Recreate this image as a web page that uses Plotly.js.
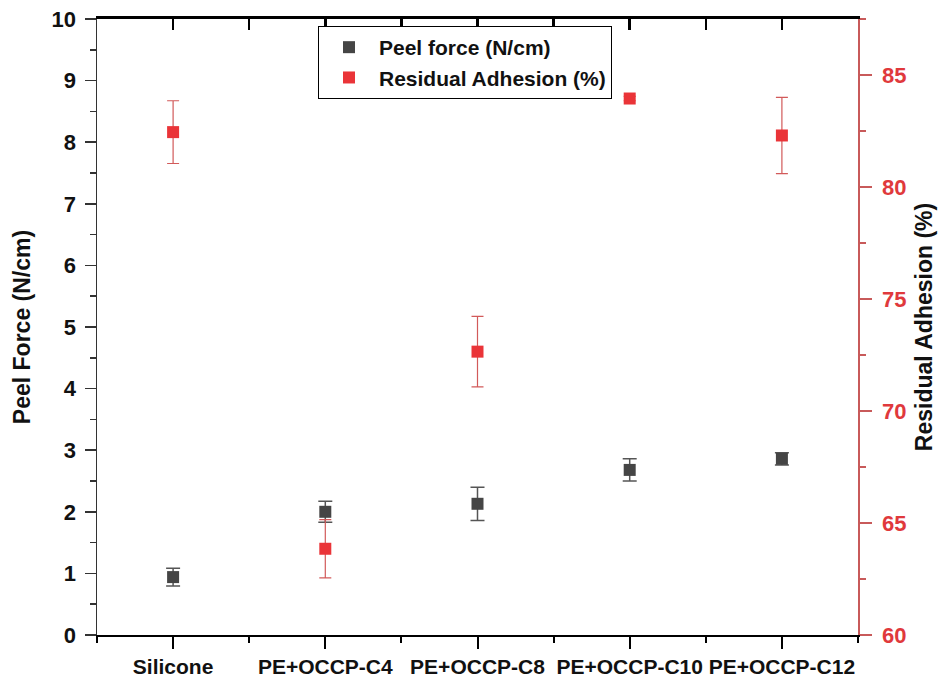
<!DOCTYPE html>
<html>
<head>
<meta charset="utf-8">
<script src="https://cdn.plot.ly/plotly-3.0.1.min.js"></script>
<style>html,body{margin:0;padding:0;background:#fff;}#chart{width:943px;height:677px;}</style>
</head>
<body>
<div id="chart"></div>
<script>
const categories = ["Silicone", "PE+OCCP-C4", "PE+OCCP-C8", "PE+OCCP-C10", "PE+OCCP-C12"];
const peelForce = [0.94, 2.00, 2.13, 2.68, 2.86];
const peelForceErr = [0.145, 0.17, 0.27, 0.18, 0.10];
const residualAdhesion = [82.45, 63.85, 72.65, 83.95, 82.3];
const residualAdhesionErr = [1.4, 1.3, 1.57, 0.1, 1.7];
const leftTicks = [0, 1, 2, 3, 4, 5, 6, 7, 8, 9, 10];
const rightTicks = [60, 65, 70, 75, 80, 85];

const xIdx = categories.map((_, i) => i);
const FONT = "Liberation Sans, Arial, sans-serif";

const traces = [
  {
    x: xIdx, y: peelForce, name: "<b>Peel force (N/cm)</b>",
    type: "scatter", mode: "markers",
    marker: {symbol: "square", size: 12, color: "#454545"},
    error_y: {type: "data", array: peelForceErr, visible: true, color: "#555555", thickness: 1.5, width: 7},
    xaxis: "x", yaxis: "y"
  },
  {
    x: xIdx, y: residualAdhesion, name: "<b>Residual Adhesion (%)</b>",
    type: "scatter", mode: "markers",
    marker: {symbol: "square", size: 12, color: "#ea3438"},
    error_y: {type: "data", array: residualAdhesionErr, visible: true, color: "#d25a5a", thickness: 1.2, width: 6},
    xaxis: "x", yaxis: "y2"
  },
  {
    // carrier for the top frame axis (draws nothing)
    x: xIdx, y: peelForce, type: "scatter", mode: "markers",
    marker: {opacity: 0, size: 1}, showlegend: false, hoverinfo: "skip",
    xaxis: "x2", yaxis: "y"
  }
];

const layout = {
  width: 943, height: 677,
  margin: {l: 97, r: 85, t: 19, b: 42},
  paper_bgcolor: "#ffffff", plot_bgcolor: "#ffffff",
  font: {family: FONT, color: "#111111"},
  showlegend: true,
  legend: {
    x: 0.2904, y: 0.9886, xanchor: "left", yanchor: "top",
    bordercolor: "#000000", borderwidth: 1, bgcolor: "#ffffff",
    font: {family: FONT, size: 21, color: "#111111"},
    itemwidth: 50
  },
  xaxis: {
    type: "linear", range: [-0.5, 4.5],
    tickvals: xIdx, ticktext: categories.map(c => "<b>" + c + "</b>"),
    tickfont: {family: FONT, size: 21, color: "#111111"},
    ticks: "outside", ticklen: 12, tickwidth: 2, tickcolor: "#000000",
    minor: {tick0: -0.5, dtick: 0.5, ticks: "outside", ticklen: 6, tickwidth: 2, tickcolor: "#000000", showgrid: false},
    showline: true, linecolor: "#000000", linewidth: 2,
    showgrid: false, zeroline: false
  },
  xaxis2: {
    type: "linear", range: [-0.5, 4.5], overlaying: "x", side: "top", anchor: "y",
    tickmode: "linear", tick0: -0.5, dtick: 0.5, ticks: "inside", ticklen: 11, tickwidth: 2.5, tickcolor: "black",
    showticklabels: false, showline: true, linecolor: "black", linewidth: 3,
    showgrid: false, zeroline: false, layer: "above traces"
  },
  yaxis: {
    range: [0, 10], tickvals: leftTicks, ticktext: leftTicks.map(v => "<b>" + v + "</b>"),
    tickfont: {family: FONT, size: 22, color: "#111111"},
    ticks: "outside", ticklen: 11, tickwidth: 1.5, tickcolor: "#333333",
    minor: {dtick: 0.5, ticks: "outside", ticklen: 6, tickwidth: 1.5, tickcolor: "#333333", showgrid: false},
    ticklabelstandoff: 4,
    showline: true, linecolor: "#333333", linewidth: 1.5,
    showgrid: false, zeroline: false,
    title: {text: "<b>Peel Force (N/cm)</b>", font: {family: FONT, size: 23, color: "#111111"}, standoff: 14}
  },
  yaxis2: {
    range: [60, 87.5], overlaying: "y", side: "right", anchor: "x",
    tickvals: rightTicks, ticktext: rightTicks.map(v => "<b>" + v + "</b>"),
    tickfont: {family: FONT, size: 22, color: "#e0393c"},
    ticks: "outside", ticklen: 12, tickwidth: 1.5, tickcolor: "#c85a5a",
    minor: {dtick: 2.5, ticks: "outside", ticklen: 6, tickwidth: 1.5, tickcolor: "#c85a5a", showgrid: false},
    ticklabelstandoff: 6,
    showline: true, linecolor: "#c85a5a", linewidth: 1.5,
    showgrid: false, zeroline: false,
    title: {text: "<b>Residual Adhesion (%)</b>", font: {family: FONT, size: 23, color: "#111111"}, standoff: 10}
  }
};

Plotly.newPlot("chart", traces, layout, {displayModeBar: false, staticPlot: true});
</script>
</body>
</html>
